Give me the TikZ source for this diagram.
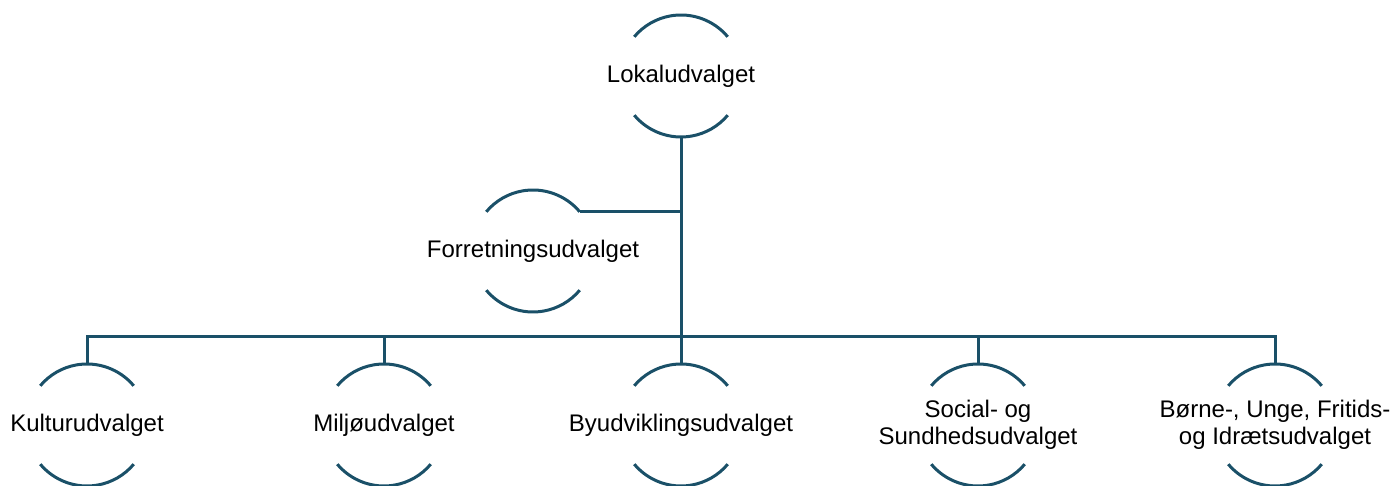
\documentclass[tikz,border=0pt]{standalone}
\usepackage{fontspec}
\setmainfont{Liberation Sans}
\definecolor{orgline}{HTML}{1A5068}
\begin{document}
\begin{tikzpicture}[x=1pt,y=1pt,
  unit/.style={inner sep=0pt,outer sep=0pt,align=center,
    font=\fontsize{24}{27.5}\selectfont,text=black},
  conn/.style={draw=orgline,line width=3pt},
  arcs/.style={draw=orgline,line width=3pt}]
\useasboundingbox (0,0) rectangle (1390,486);
\node[unit] (L) at (681,410) {Lokaludvalget};
\node[unit] (F) at (533,235) {Forretningsudvalget};
\node[unit] (K) at (87,61) {Kulturudvalget};
\node[unit] (M) at (384,61) {Miljøudvalget};
\node[unit] (By) at (681,61) {Byudviklingsudvalget};
\node[unit] (S) at (978,61) {Social- og\\Sundhedsudvalget};
\node[unit] (B) at (1275,61) {Børne-, Unge, Fritids-\\og Idrætsudvalget};
\coordinate (bus) at (681,149);
\foreach \n in {L,F,K,M,By,S,B}{
  \draw[arcs] ([shift={(40:61pt)}]\n.center) arc[start angle=40,end angle=140,radius=61pt];
  \draw[arcs] ([shift={(220:61pt)}]\n.center) arc[start angle=220,end angle=320,radius=61pt];
  \coordinate (\n-top) at ([yshift=61pt]\n.center);
}
\coordinate (Lbot) at ([yshift=-61pt]L.center);
\coordinate (Fr) at ([shift={(40:61pt)}]F.center);
\draw[conn] (Lbot) -- (bus);
\draw[conn] (Fr) -- (Fr -| Lbot);
\draw[conn] (K-top) |- (bus) -| (B-top);
\draw[conn] (M-top) -- (M-top |- bus);
\draw[conn] (By-top) -- (bus);
\draw[conn] (S-top) -- (S-top |- bus);
\end{tikzpicture}
\end{document}
